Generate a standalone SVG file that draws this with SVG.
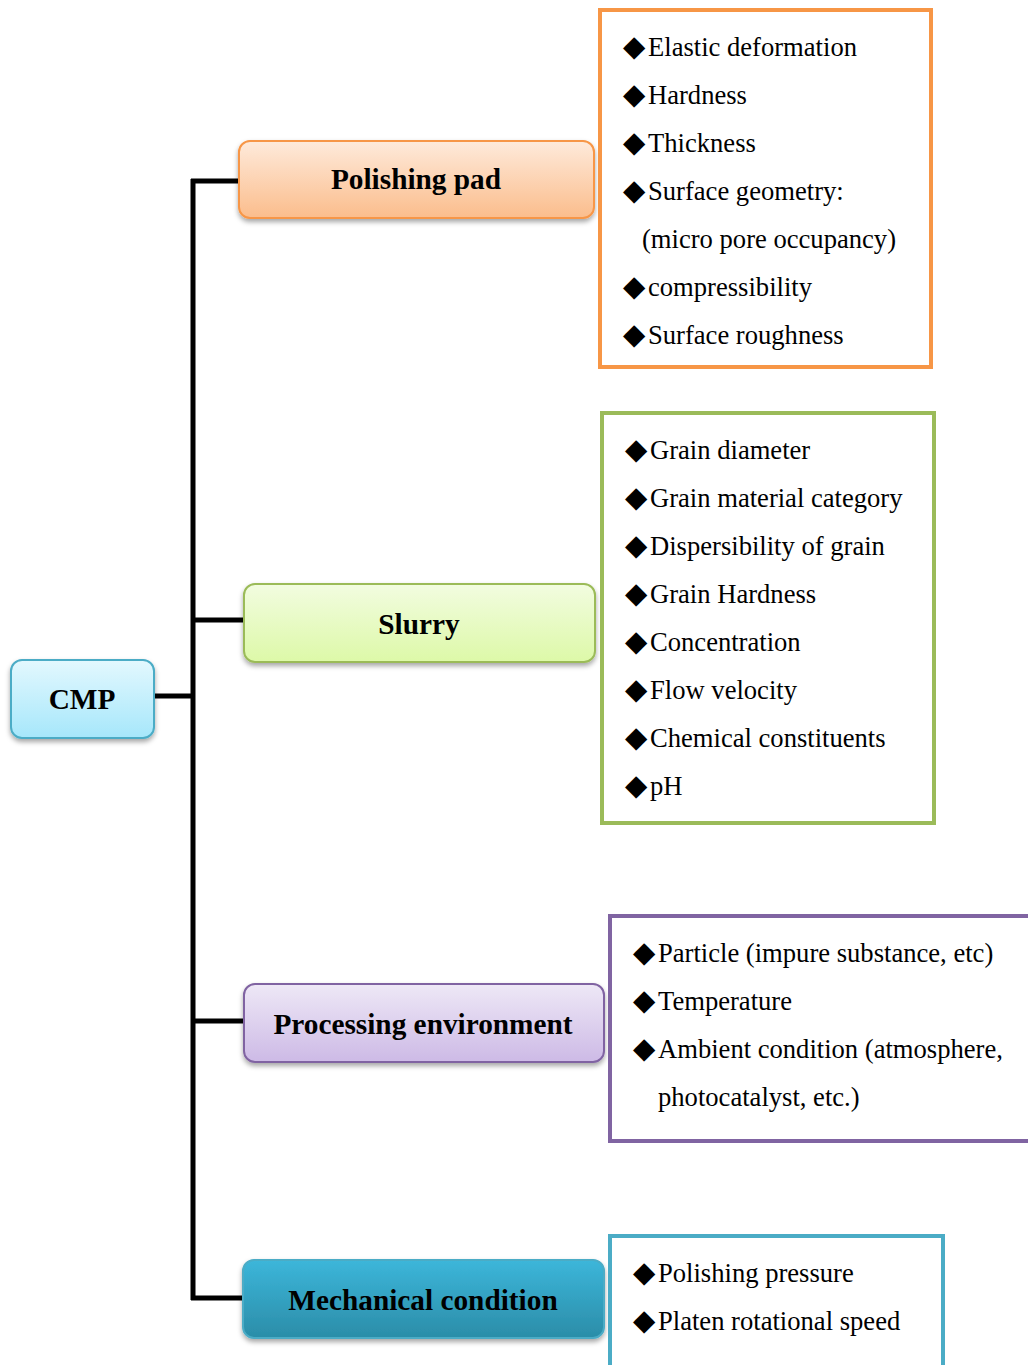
<svg xmlns="http://www.w3.org/2000/svg" width="1028" height="1365" viewBox="0 0 1028 1365">
<defs>
<linearGradient id="gCmp" x1="0" y1="0" x2="0" y2="1"><stop offset="0" stop-color="#E3F8FE"/><stop offset="1" stop-color="#A6E7FB"/></linearGradient>
<linearGradient id="gPad" x1="0" y1="0" x2="0" y2="1"><stop offset="0" stop-color="#FEEADB"/><stop offset="1" stop-color="#FBBD8C"/></linearGradient>
<linearGradient id="gSlurry" x1="0" y1="0" x2="0" y2="1"><stop offset="0" stop-color="#F2FCE0"/><stop offset="1" stop-color="#DDF9A8"/></linearGradient>
<linearGradient id="gEnv" x1="0" y1="0" x2="0" y2="1"><stop offset="0" stop-color="#EEE8F6"/><stop offset="1" stop-color="#CDBAE6"/></linearGradient>
<linearGradient id="gMech" x1="0" y1="0" x2="0" y2="1"><stop offset="0" stop-color="#3CB6DA"/><stop offset="1" stop-color="#2B8DA8"/></linearGradient>
<filter id="sh" x="-10%" y="-20%" width="120%" height="150%"><feDropShadow dx="0" dy="3" stdDeviation="2.5" flood-color="#000" flood-opacity="0.35"/></filter>
<style>
.hd{font-family:"Liberation Serif","Times New Roman",serif;font-weight:bold;font-size:29.3px;fill:#000;text-anchor:middle}
.it{font-family:"Liberation Serif","Times New Roman",serif;font-size:26.6px;fill:#000}
.bl{font-family:"DejaVu Sans",sans-serif;font-size:29px;fill:#000}
.conn{stroke:#000;stroke-width:5;fill:none}
.list{fill:#fff;stroke-width:4}
</style>
</defs>
<rect width="1028" height="1365" fill="#fff"/>
<g id="connectors">
<line class="conn" x1="154" y1="696" x2="195" y2="696"/>
<line class="conn" x1="193" y1="179" x2="193" y2="1300"/>
<line class="conn" x1="191" y1="181" x2="243" y2="181"/>
<line class="conn" x1="193" y1="620" x2="244" y2="620"/>
<line class="conn" x1="193" y1="1021" x2="244" y2="1021"/>
<line class="conn" x1="191" y1="1298" x2="244" y2="1298"/>
</g>
<g id="cmp">
<rect x="11" y="660" width="143" height="78" rx="11" fill="url(#gCmp)" stroke="#4BACC6" stroke-width="2" filter="url(#sh)"/>
<text class="hd" x="82" y="709">CMP</text>
</g>
<g id="polishing-pad">
<rect x="239" y="141" width="355" height="77" rx="11" fill="url(#gPad)" stroke="#F79646" stroke-width="2" filter="url(#sh)"/>
<text class="hd" x="416" y="189">Polishing pad</text>
</g>
<g id="slurry">
<rect x="244" y="584" width="351" height="78" rx="11" fill="url(#gSlurry)" stroke="#9BBB59" stroke-width="2" filter="url(#sh)"/>
<text class="hd" x="419" y="634">Slurry</text>
</g>
<g id="processing-environment">
<rect x="244" y="984" width="360" height="78" rx="11" fill="url(#gEnv)" stroke="#8064A2" stroke-width="2" filter="url(#sh)"/>
<text class="hd" x="423" y="1034">Processing environment</text>
</g>
<g id="mechanical-condition">
<rect x="243" y="1260" width="361" height="78" rx="11" fill="url(#gMech)" stroke="#4BACC6" stroke-width="2" filter="url(#sh)"/>
<text class="hd" x="423" y="1310">Mechanical condition</text>
</g>
<g id="pad-list">
<rect class="list" x="600" y="10" width="331" height="357" stroke="#F79646"/>
<g class="bl"><text x="623" y="56">◆</text><text x="623" y="104">◆</text><text x="623" y="152">◆</text><text x="623" y="200">◆</text><text x="623" y="296">◆</text><text x="623" y="344">◆</text></g>
<text class="it" x="648" y="56">Elastic deformation</text>
<text class="it" x="648" y="104">Hardness</text>
<text class="it" x="648" y="152">Thickness</text>
<text class="it" x="648" y="200">Surface geometry:</text>
<text class="it" x="642" y="248">(micro pore occupancy)</text>
<text class="it" x="648" y="296">compressibility</text>
<text class="it" x="648" y="344">Surface roughness</text>
</g>
<g id="slurry-list">
<rect class="list" x="602" y="413" width="332" height="410" stroke="#9BBB59"/>
<g class="bl"><text x="625" y="459">◆</text><text x="625" y="507">◆</text><text x="625" y="555">◆</text><text x="625" y="603">◆</text><text x="625" y="651">◆</text><text x="625" y="699">◆</text><text x="625" y="747">◆</text><text x="625" y="795">◆</text></g>
<text class="it" x="650" y="459">Grain diameter</text>
<text class="it" x="650" y="507">Grain material category</text>
<text class="it" x="650" y="555">Dispersibility of grain</text>
<text class="it" x="650" y="603">Grain Hardness</text>
<text class="it" x="650" y="651">Concentration</text>
<text class="it" x="650" y="699">Flow velocity</text>
<text class="it" x="650" y="747">Chemical constituents</text>
<text class="it" x="650" y="795">pH</text>
</g>
<g id="environment-list">
<rect class="list" x="610" y="916" width="430" height="225" stroke="#8064A2"/>
<g class="bl"><text x="633" y="962">◆</text><text x="633" y="1010">◆</text><text x="633" y="1058">◆</text></g>
<text class="it" x="658" y="962">Particle (impure substance, etc)</text>
<text class="it" x="658" y="1010">Temperature</text>
<text class="it" x="658" y="1058">Ambient condition (atmosphere,</text>
<text class="it" x="658" y="1106">photocatalyst, etc.)</text>
</g>
<g id="mechanical-list">
<rect class="list" x="610" y="1236" width="333" height="140" stroke="#4BACC6"/>
<g class="bl"><text x="633" y="1282">◆</text><text x="633" y="1330">◆</text></g>
<text class="it" x="658" y="1282">Polishing pressure</text>
<text class="it" x="658" y="1330">Platen rotational speed</text>
</g>
</svg>
